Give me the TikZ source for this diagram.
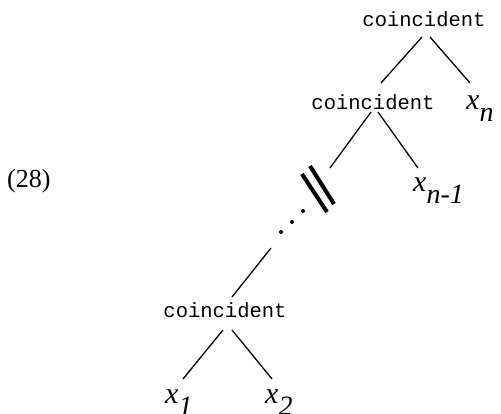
\documentclass[tikz,border=0pt]{standalone}
\usepackage{fontspec}
\setmainfont{Liberation Serif}
\setmonofont{Liberation Mono}
\usepackage{tikz}

\tikzset{
  fn/.style={font=\ttfamily\fontsize{20.5}{22}\selectfont, inner sep=0pt, anchor=base},
  var/.style={font=\itshape\fontsize{30}{32}\selectfont, inner sep=0pt, anchor=base west},
  edge/.style={line width=1.3pt}
}
\newcommand{\subvar}[2]{#1\raisebox{-12pt}{\fontsize{28}{30}\selectfont #2}}

\begin{document}
\begin{tikzpicture}[x=1pt, y=-1pt]
\useasboundingbox (0,0) rectangle (501,414);

% example number
\node[font=\fontsize{26}{28}\selectfont, inner sep=0pt, anchor=base west] (num) at (7,188) {(28)};

% function nodes
\node[fn] (top) at (424,27) {coincident};
\node[fn] (mid) at (373,110) {coincident};
\node[fn] (bot) at (225,318) {coincident};

% arguments
\node[var] (xn) at (466,110) {\subvar{x}{n}};
\node[var] (xnm) at (413,192) {\subvar{x}{n-1}};
\node[var] (xa) at (165,403) {\subvar{x}{1}};
\node[var] (xb) at (265,403) {\subvar{x}{2}};

% free ends around the elided part
\coordinate (gap) at (330,168);
\coordinate (resume) at (271,248);

% branches
\draw[edge] ([shift={(-2,10)}]top.base) -- ([shift={(8,-27)}]mid.base);
\draw[edge] ([shift={(6,10)}]top.base) -- ([shift={(4,-27)}]xn.base west);
\draw[edge] ([shift={(-2,2)}]mid.base) -- (gap);
\draw[edge] ([shift={(5,2)}]mid.base) -- ([shift={(5,-24)}]xnm.base west);
\draw[edge] (resume) -- ([shift={(7,-21)}]bot.base);
\draw[edge] ([shift={(-2,12)}]bot.base) -- ([shift={(18,-24)}]xa.base west);
\draw[edge] ([shift={(7,12)}]bot.base) -- ([shift={(7,-24)}]xb.base west);

% break marks and dots
\draw[line width=4pt] (302,174) -- (327,212);
\draw[line width=4pt] (310,166) -- (334,204);
\foreach \p in {(303,211),(292,222),(281,232)}
  \fill \p circle (2pt);

\end{tikzpicture}
\end{document}
